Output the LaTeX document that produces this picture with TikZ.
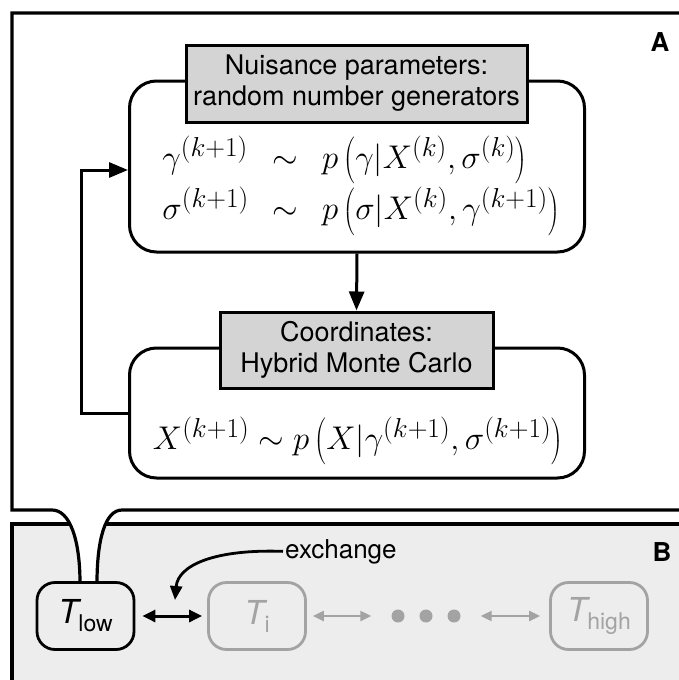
\documentclass[tikz,border=0pt]{standalone}
\usepackage{graphicx}
\usepackage{fontspec}
\setsansfont{TeX Gyre Heros}
\usetikzlibrary{arrows.meta,calc}

\definecolor{hdrgrey}{gray}{0.83}
\definecolor{panelgrey}{gray}{0.93}
\definecolor{fadegrey}{gray}{0.64}

% temperature label: slanted T with an upright subscript
\newcommand{\tname}[1]{{\fontsize{33}{33}\selectfont\sffamily\itshape T}\raisebox{-8pt}{\fontsize{23}{23}\selectfont\sffamily #1}}
% the math fonts stop at 24.88pt, so larger formulas are scaled up
\newcommand{\bigmath}[1]{\scalebox{1.32}{\fontsize{24.88}{30}\selectfont #1}}

\begin{document}
\begin{tikzpicture}[x=1pt,y=-1pt,
  frame/.style={line width=3.2pt},
  roundbox/.style={draw, line width=3pt, rounded corners=27pt, fill=white, inner sep=0pt},
  header/.style={draw, line width=3pt, fill=hdrgrey, align=center, inner sep=0pt,
    font=\sffamily\fontsize{27}{31}\selectfont},
  flow/.style={line width=3pt, -{Triangle[length=19pt,width=15pt]}},
  tbox/.style={draw, line width=2.8pt, rounded corners=18pt, minimum width=97pt,
    minimum height=67pt, inner sep=0pt},
  swapblack/.style={line width=3pt, {Triangle[length=13pt,width=12pt]}-{Triangle[length=13pt,width=12pt]}},
  swapgrey/.style={line width=2.2pt, draw=fadegrey, {Triangle[length=11pt,width=10pt]}-{Triangle[length=11pt,width=10pt]}},
  dot/.style={circle, fill=fadegrey, minimum size=13pt, inner sep=0pt},
  panellabel/.style={font=\sffamily\bfseries\fontsize{26}{26}\selectfont}
]
\useasboundingbox (0,0) rectangle (679,680);

% panel B: shaded strip holding the replica ladder
\fill[panelgrey] (12,524) rectangle (690,690);
\draw[frame] (12,690) -- (12,524) -- (690,524);

% panel A: white sheet whose lower edge funnels down into T_low
\fill[white] (690,13) -- (12,13) -- (12,510) -- (52,510)
  .. controls (70,510) and (80,540) .. (80,583) -- (97,583)
  .. controls (97,540) and (105,510) .. (122,510) -- (690,510) -- cycle;
\draw[frame] (690,13) -- (12,13) -- (12,510) -- (52,510)
  .. controls (70,510) and (80,540) .. (80,583);
\draw[frame] (97,583) .. controls (97,540) and (105,510) .. (122,510) -- (690,510);

% Gibbs step for the nuisance parameters
\node[roundbox, minimum width=455pt, minimum height=171pt] (boxA) at (357,166.5) {};
\node[header, minimum width=341pt, minimum height=77pt] (hdrA) at (356.5,83.5)
  {Nuisance parameters:\\random number generators};
\node (mathA) at (361,184) {\bigmath{$\renewcommand{\arraystretch}{1.29}
  \begin{array}{@{}l@{\hspace{18pt}}c@{\hspace{18pt}}l@{}}
  \gamma^{(k+1)} & \sim & p\left(\gamma|X^{(k)},\sigma^{(k)}\right)\\
  \sigma^{(k+1)} & \sim & p\left(\sigma|X^{(k)},\gamma^{(k+1)}\right)
  \end{array}$}};

% Hybrid Monte Carlo step for the coordinates
\node[roundbox, minimum width=455pt, minimum height=130pt] (boxB) at (357,413) {};
\node[header, minimum width=273pt, minimum height=76pt] (hdrB) at (356.5,350)
  {Coordinates:\\Hybrid Monte Carlo};
\node (mathB) at (358,441) {\bigmath{$X^{(k+1)}\sim p\left(X|\gamma^{(k+1)},\sigma^{(k+1)}\right)$}};

% sampling cycle
\draw[flow] (boxA.south) -- (hdrB.north);
\draw[flow] (boxB.west) -- ++(-47,0) |- ($(boxA.west)+(0,3.5)$);

% replica ladder
\node[tbox] (tlow) at (85.5,616) {\tname{low}};
\node[tbox, draw=fadegrey, text=fadegrey] (ti) at (257,616) {\tname{i}};
\node[dot] (d1) at (398,616) {};
\node[dot] (d2) at (426,616) {};
\node[dot] (d3) at (454,616) {};
\node[tbox, draw=fadegrey, text=fadegrey] (thigh) at (599,616) {\tname{high}};

\draw[swapblack, shorten <=7pt, shorten >=5pt] (tlow.east) -- (ti.west);
\draw[swapgrey, shorten <=6pt, shorten >=20pt] (ti.east) -- (d1.west);
\draw[swapgrey, shorten <=20pt, shorten >=9pt] (d3.east) -- (thigh.west);

\node[font=\sffamily\fontsize{26}{26}\selectfont, anchor=base west, inner sep=2pt] (exch) at (283,558) {exchange};
\coordinate (exend) at (175,600);
\draw[line width=2.8pt, -{Triangle[length=14pt,width=12pt]}] (exch.west)
  .. controls (215,549) and (178,565) .. (exend);

% panel letters
\node[panellabel] (labA) at (660,42) {A};
\node[panellabel] (labB) at (662,552) {B};
\end{tikzpicture}
\end{document}
